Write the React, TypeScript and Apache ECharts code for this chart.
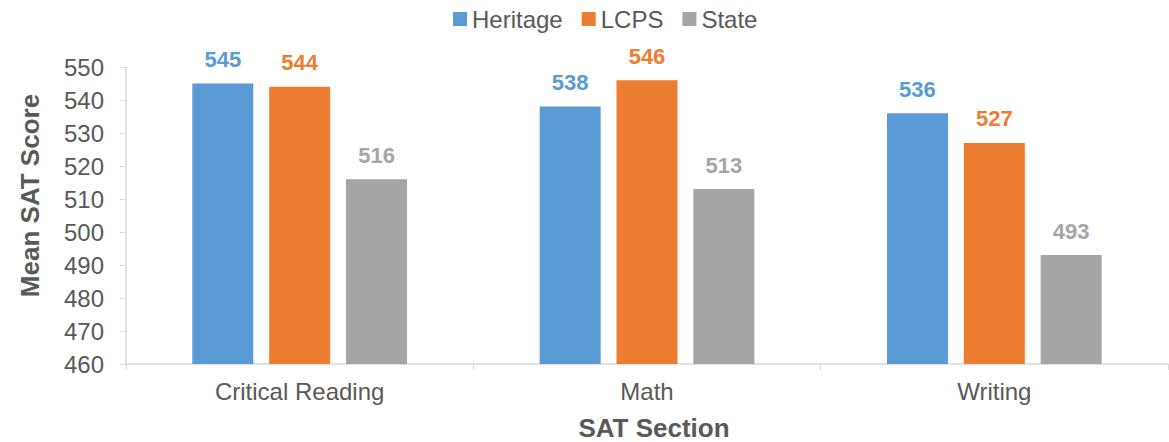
import React, { useEffect, useRef } from "react";
import * as echarts from "echarts";

const categories = ["Critical Reading", "Math", "Writing"];
const heritage = [545, 538, 536];
const lcps = [544, 546, 527];
const state = [516, 513, 493];
const seriesNames = ["Heritage", "LCPS", "State"];
const colors = ["#5B9BD5", "#ED7D31", "#A5A5A5"];

const FONT = "'Liberation Sans', Arial, sans-serif";

export default function App() {
  const ref = useRef<HTMLDivElement>(null);
  useEffect(() => {
    if (!ref.current) return;
    const chart = echarts.init(ref.current, null, { renderer: "svg" });
    const data = [heritage, lcps, state];
    chart.setOption({
      animation: false,
      textStyle: { fontFamily: FONT },
      legend: {
        top: 2,
        left: 448,
        itemWidth: 14,
        itemHeight: 14,
        itemGap: 19,
        icon: "rect",
        textStyle: { fontSize: 24, color: "#595959", fontFamily: FONT },
        data: seriesNames,
      },
      grid: { left: 126, right: 1, top: 67, bottom: 78, outerBoundsMode: "none", containLabel: false },
      xAxis: {
        type: "category",
        data: categories,
        name: "SAT Section",
        nameLocation: "middle",
        nameGap: 51,
        nameTextStyle: { fontSize: 26, fontWeight: "bold", color: "#595959", fontFamily: FONT, padding: [0, 0, 0, 14] },
        axisLine: { lineStyle: { color: "#D9D9D9", width: 1.5 } },
        axisTick: { show: true, length: 6, lineStyle: { color: "#D9D9D9" } },
        axisLabel: { fontSize: 24, color: "#595959", margin: 15, fontFamily: FONT },
      },
      yAxis: {
        type: "value",
        min: 460,
        max: 550,
        interval: 10,
        name: "Mean SAT Score",
        nameLocation: "middle",
        nameGap: 83,
        nameTextStyle: { fontSize: 26, fontWeight: "bold", color: "#595959", fontFamily: FONT, padding: [0, 0, 0, 40] },
        axisLine: { show: true, lineStyle: { color: "#D9D9D9", width: 1.5 } },
        axisTick: { show: true, length: 6, lineStyle: { color: "#D9D9D9" } },
        splitLine: { show: false },
        axisLabel: { fontSize: 24, color: "#595959", margin: 22, fontFamily: FONT },
      },
      series: seriesNames.map((name, i) => ({
        name,
        type: "bar",
        data: data[i],
        barWidth: 61,
        barGap: "26%",
        itemStyle: { color: colors[i] },
        label: {
          show: true,
          position: "top",
          distance: 13,
          fontSize: 22,
          fontWeight: "bold",
          color: colors[i],
          fontFamily: FONT,
        },
      })),
    });
    return () => chart.dispose();
  }, []);
  return <div ref={ref} style={{ width: 1169, height: 442, position: "absolute", left: 0, top: 0 }} />;
}
